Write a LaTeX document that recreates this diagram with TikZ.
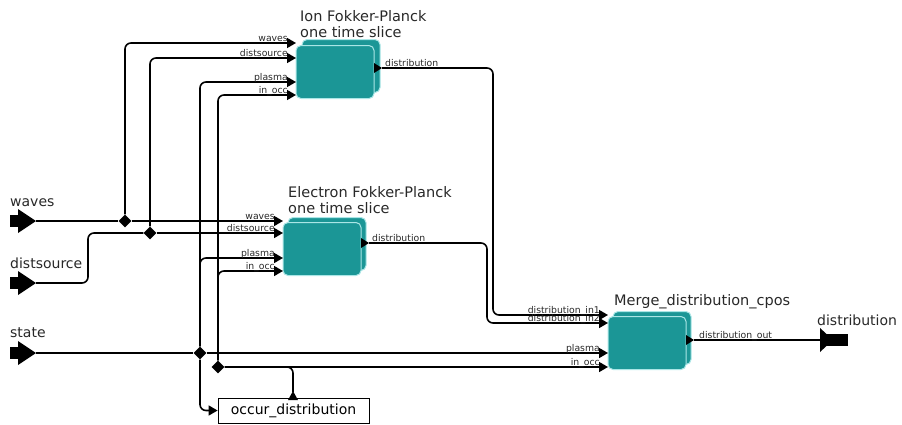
\documentclass[tikz,border=0pt]{standalone}
\usepackage{fontspec}
\setmainfont{DejaVu Sans}
\usetikzlibrary{shapes.geometric,arrows.meta,calc}

\definecolor{actorfill}{RGB}{27,150,150}
\definecolor{actorrim}{RGB}{170,230,230}
\definecolor{labelgray}{RGB}{40,40,40}

\tikzset{
  wire/.style={line width=1.6pt, rounded corners=6pt},
  feed/.style={wire, -{Triangle[length=9pt,width=10pt]}},
  relation/.style={diamond, fill=black, inner sep=0pt, minimum size=13pt},
  actor/.style={rectangle, rounded corners=5pt, fill=actorfill, draw=actorrim,
    line width=1pt, minimum width=78pt, minimum height=53pt, inner sep=0pt},
  actortitle/.style={font=\fontsize{14.5}{16}\selectfont, text=labelgray,
    align=left, anchor=base west, inner sep=0pt},
  portlabel/.style={font=\fontsize{9.3}{10}\selectfont, text=labelgray, inner sep=0pt},
  extlabel/.style={font=\fontsize{14}{16}\selectfont, text=labelgray,
    anchor=base west, inner sep=0pt},
  inport/.pic={\fill (0,-6) rectangle (9,6); \fill (8,-12) -- (26,0) -- (8,12) -- cycle;},
  outport/.pic={\fill (0,-12) -- (13,0) -- (0,12) -- cycle; \fill (7,-6) rectangle (28,6);},
  actorout/.pic={\fill (0,-5) -- (8,0) -- (0,5) -- cycle;},
  upport/.pic={\fill (-5,0) -- (0,-9) -- (5,0) -- cycle;}
}

\begin{document}
\begin{tikzpicture}[x=1pt,y=-1pt]
\useasboundingbox (0,0) rectangle (902,424);

% actors
\node[actor] (ionback) at (341,66) {};
\node[actor] (ion) at (335,72) {};
\node[actor] (elback) at (327,244) {};
\node[actor] (el) at (322,249) {};
\node[actor] (mergeback) at (652,338) {};
\node[actor] (merge) at (647,343) {};
\node[draw, line width=0.8pt, minimum width=151pt, minimum height=25pt, inner sep=0pt,
  font=\fontsize{14}{16}\selectfont] (occ) at (293.5,410.5) {occur\_distribution};

\node[actortitle] (iontitle) at (300,37) {Ion Fokker-Planck\\one time slice};
\node[actortitle] (eltitle) at (288,213) {Electron Fokker-Planck\\one time slice};
\node[actortitle] (mergetitle) at (614,305) {Merge\_distribution\_cpos};

% ports
\coordinate (ion-waves) at (296,43);
\coordinate (ion-dist) at (296,58);
\coordinate (ion-plasma) at (296,82);
\coordinate (ion-inocc) at (296,95);
\coordinate (el-waves) at (283,221);
\coordinate (el-dist) at (283,233);
\coordinate (el-plasma) at (283,258);
\coordinate (el-inocc) at (283,271);
\coordinate (merge-in1) at (608,315);
\coordinate (merge-in2) at (608,323);
\coordinate (merge-plasma) at (608,353);
\coordinate (merge-inocc) at (608,367);
\pic at (374,68) {actorout};
\pic at (361,243) {actorout};
\pic at (686,340) {actorout};
\pic at (293,400) {upport};
\coordinate (ion-out) at (382,68);
\coordinate (el-out) at (369,243);
\coordinate (merge-out) at (694,340);
\coordinate (occ-out) at (293,392);

% outer ports
\pic at (10,221) {inport};
\pic at (10,283) {inport};
\pic at (10,353) {inport};
\pic at (820,340) {outport};
\coordinate (wavesin) at (36,221);
\coordinate (distin) at (36,283);
\coordinate (statein) at (36,353);
\coordinate (distout) at (820,340);
\node[extlabel] (waveslabel) at (10,206) {waves};
\node[extlabel] (distlabel) at (10,268) {distsource};
\node[extlabel] (statelabel) at (10,337) {state};
\node[extlabel] (outlabel) at (817,325) {distribution};

% relations
\node[relation] (jw) at (125,221) {};
\node[relation] (js) at (150,233) {};
\node[relation] (jp) at (200,353) {};
\node[relation] (jo) at (218,367) {};

% connections
\draw[wire] (wavesin) -- (jw);
\draw[feed] (jw) -- (el-waves);
\draw[feed] (jw) |- (ion-waves);
\draw[wire] (distin) -| (88,233) -- (js);
\draw[feed] (js) -- (el-dist);
\draw[feed] (js) |- (ion-dist);
\draw[wire] (statein) -- (jp);
\draw[feed] (jp) -- (merge-plasma);
\draw[feed] (jp) |- (el-plasma);
\draw[feed] (jp) |- (ion-plasma);
\draw[feed] (jp) |- (occ.west);
\draw[wire] (occ-out) |- (jo);
\draw[feed] (jo) -- (merge-inocc);
\draw[feed] (jo) |- (el-inocc);
\draw[feed] (jo) |- (ion-inocc);
\draw[feed] (ion-out) -| (493,315) -- (merge-in1);
\draw[feed] (el-out) -| (487,323) -- (merge-in2);
\draw[wire] (merge-out) -- (distout);

% port labels
\node[portlabel, anchor=base east] at (288,41.5) {waves};
\node[portlabel, anchor=base east] at (288,56.5) {distsource};
\node[portlabel, anchor=base east] at (288,80.5) {plasma};
\node[portlabel, anchor=base east] at (288,93.5) {in\_occ};
\node[portlabel, anchor=base east] at (275,219.5) {waves};
\node[portlabel, anchor=base east] at (275,231.5) {distsource};
\node[portlabel, anchor=base east] at (275,256.5) {plasma};
\node[portlabel, anchor=base east] at (275,269.5) {in\_occ};
\node[portlabel, anchor=base east] at (600,313.5) {distribution\_in1};
\node[portlabel, anchor=base east] at (600,321.5) {distribution\_in2};
\node[portlabel, anchor=base east] at (600,351.5) {plasma};
\node[portlabel, anchor=base east] at (600,365.5) {in\_occ};
\node[portlabel, anchor=base west] at (385,66) {distribution};
\node[portlabel, anchor=base west] at (372,241) {distribution};
\node[portlabel, anchor=base west] at (699,338) {distribution\_out};
\end{tikzpicture}
\end{document}
